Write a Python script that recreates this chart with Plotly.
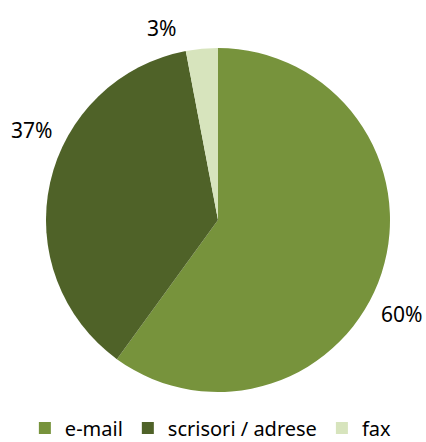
import plotly.graph_objects as go

categories = ["e-mail", "scrisori / adrese", "fax"]
values = [60, 37, 3]
colors = ["#77933C", "#4F6228", "#D7E4BD"]

# label anchor points (paper coords) for the outside percentage labels
label_pos = [(0.943, 0.29), (0.075, 0.706), (0.38, 0.937)]

W, H = 426, 442
cx, cy, r = 218, 220, 172

fig = go.Figure(go.Pie(
    labels=categories,
    values=values,
    marker=dict(colors=colors, line=dict(color="white", width=0)),
    sort=False,
    direction="clockwise",
    rotation=0,
    textinfo="none",
    hoverinfo="label+percent",
    domain=dict(x=[(cx - r) / W, (cx + r) / W], y=[1 - (cy + r) / H, 1 - (cy - r) / H]),
))

total = sum(values)
for v, (x, y) in zip(values, label_pos):
    fig.add_annotation(
        x=x, y=y, xref="paper", yref="paper",
        text=f"{round(100 * v / total)}%", showarrow=False,
        font=dict(size=21, color="#000000"),
        xanchor="center", yanchor="middle",
    )

fig.update_layout(
    width=W, height=H,
    margin=dict(l=0, r=0, t=0, b=0, autoexpand=False),
    paper_bgcolor="white",
    font=dict(family="Noto Sans, Open Sans, sans-serif", color="#000000"),
    legend=dict(
        orientation="h", x=0.495, xanchor="center",
        y=0.076, yanchor="top",
        font=dict(size=20), itemwidth=30, tracegroupgap=0,
    ),
)

fig.write_html("out.html")
